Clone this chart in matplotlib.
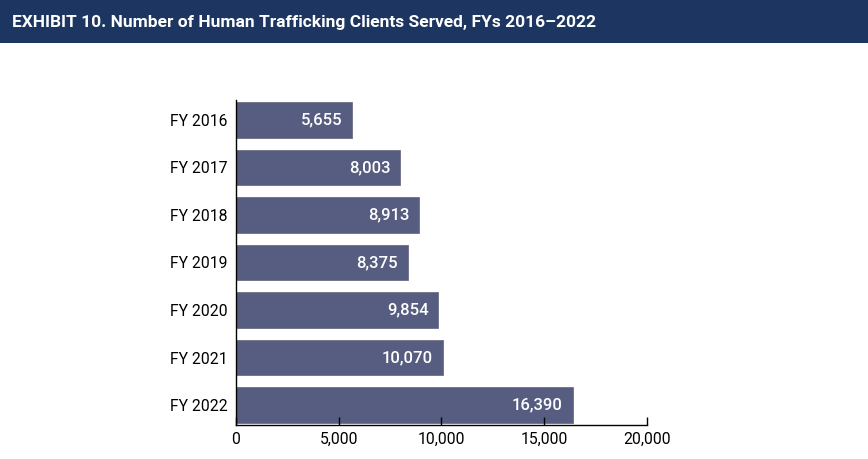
import matplotlib.pyplot as plt
from matplotlib.patches import Rectangle

years = ["FY 2016", "FY 2017", "FY 2018", "FY 2019", "FY 2020", "FY 2021", "FY 2022"]
clients = [5655, 8003, 8913, 8375, 9854, 10070, 16390]
xticks = [0, 5000, 10000, 15000, 20000]

title = "EXHIBIT 10. Number of Human Trafficking Clients Served, FYs 2016\u20132022"
bar_color = "#575d80"
navy = "#1c3661"

plt.rcParams['font.family'] = ['Roboto', 'DejaVu Sans']

fig = plt.figure(figsize=(8.68, 4.59), dpi=100)

# title banner across the top
fig.patches.append(Rectangle((0, 1 - 43 / 459), 1, 43 / 459, transform=fig.transFigure,
                             facecolor=navy, edgecolor="none", zorder=0))
fig.text(12 / 868, 1 - 22 / 459, title, color="white", fontsize=12.5,
         fontweight="bold", va="center", ha="left")

ax = fig.add_axes([236 / 868, 34 / 459, 411 / 868, 325 / 459])
pos = list(range(len(years)))
ax.barh(pos, clients, height=0.74, color=bar_color, edgecolor="#6b6f88", linewidth=0.6)

for p, v in zip(pos, clients):
    ax.text(v - 480, p, f"{v:,}", color="white", fontsize=12, fontweight="medium",
            ha="right", va="center")

ax.set_xlim(0, 20000)
ax.set_ylim(len(years) - 1 + 0.42, -0.42)
ax.set_yticks(pos)
ax.set_yticklabels(years, fontsize=11.3)
ax.set_xticks(xticks)
ax.set_xticklabels([f"{t:,}" for t in xticks], fontsize=11.3)
ax.tick_params(axis="y", length=0, pad=6)
ax.tick_params(axis="x", direction="in", length=6, width=1, pad=5)
for s in ["top", "right"]:
    ax.spines[s].set_visible(False)
for s in ["left", "bottom"]:
    ax.spines[s].set_linewidth(1)
    ax.spines[s].set_color("black")

fig.savefig("out.png", dpi=100)
